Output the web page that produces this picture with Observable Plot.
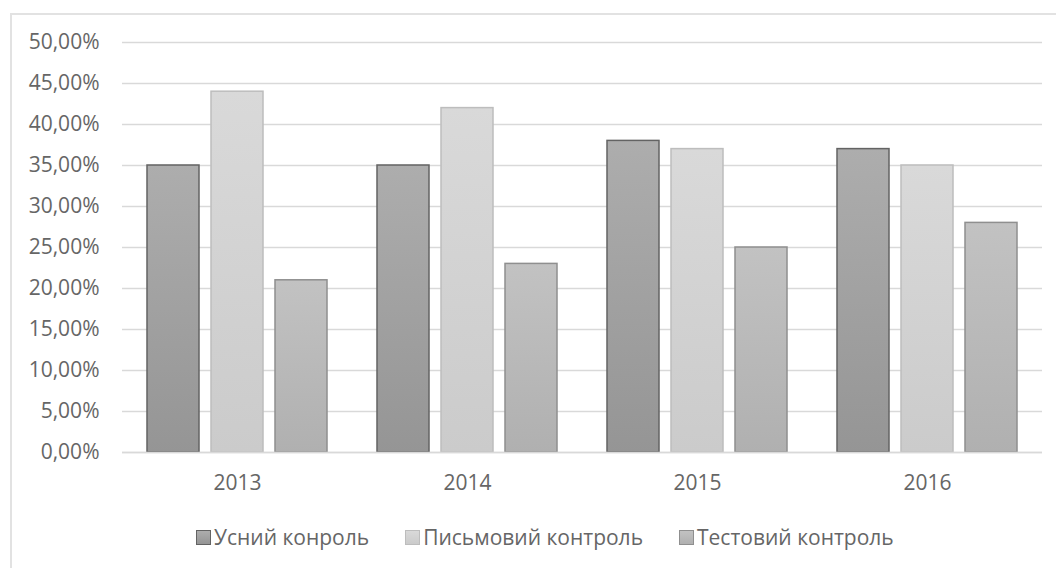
<!DOCTYPE html>
<html>
<head>
<meta charset="utf-8">
<script src="https://cdn.jsdelivr.net/npm/d3@7"></script>
<script src="https://cdn.jsdelivr.net/npm/@observablehq/plot@0.6"></script>
<style>
  html, body { margin: 0; padding: 0; background: #fff; overflow: hidden; }
  #frame { position: absolute; left: 10px; top: 13px; width: 1100px; height: 600px; border: 2px solid #e2e2e2; box-sizing: border-box; }
  #chart { position: absolute; left: 0; top: 0; }
  #legend { position: absolute; left: 196px; top: 523px; display: flex; align-items: center; font-family: "Open Sans", sans-serif; font-size: 21px; color: #666; white-space: nowrap; }
  .item { display: flex; align-items: center; margin-right: 36px; }
  .sw { width: 13px; height: 13px; margin-right: 3px; border: 1.5px solid; }
</style>
</head>
<body>
<div id="frame"></div>
<div id="chart"></div>
<div id="legend"></div>
<script>
const years = ["2013", "2014", "2015", "2016"];
const series = ["Усний конроль", "Письмовий контроль", "Тестовий контроль"];
const oral = [35, 35, 38, 37];
const written = [44, 42, 37, 35];
const test = [21, 23, 25, 28];
const yTicks = [0, 5, 10, 15, 20, 25, 30, 35, 40, 45, 50];

const values = [oral, written, test];
const data = [];
years.forEach((y, i) => series.forEach((s, j) => data.push({year: y, series: s, value: values[j][i]})));

const styles = [
  {id: "g0", top: "#adadad", bottom: "#959595", stroke: "#636363"},
  {id: "g1", top: "#d9d9d9", bottom: "#cbcbcb", stroke: "#bdbdbd"},
  {id: "g2", top: "#c2c2c2", bottom: "#b0b0b0", stroke: "#8f8f8f"}
];

const fmt = d => d3.format(".2f")(d).replace(".", ",") + "%";

const chart = Plot.plot({
  width: 1056,
  height: 512,
  marginLeft: 122,
  marginRight: 14,
  marginTop: 42,
  marginBottom: 60,
  style: {fontFamily: "Open Sans, sans-serif", fontSize: "21px", color: "#666", background: "transparent", overflow: "visible"},
  fx: {domain: years, padding: 0, label: null, axis: "bottom", tickSize: 0, tickPadding: 23},
  x: {domain: series, paddingInner: 0.1875, paddingOuter: 0.3906, axis: null},
  y: {domain: [0, 50], ticks: yTicks, tickFormat: fmt, tickSize: 0, tickPadding: 23, label: null},
  marks: [
    Plot.gridY(yTicks, {stroke: "#d9d9d9", strokeOpacity: 1, strokeWidth: 1.5}),
    ...series.map((s, j) => Plot.barY(data.filter(d => d.series === s), {
      fx: "year", x: "series", y: "value",
      fill: `url(#${styles[j].id})`,
      stroke: styles[j].stroke, strokeWidth: 1.5
    })),
    Plot.ruleY([0], {stroke: "#d9d9d9", strokeWidth: 1.5})
  ]
});

const svg = d3.select(chart);
const defs = svg.insert("defs", ":first-child");
styles.forEach(st => {
  const g = defs.append("linearGradient").attr("id", st.id).attr("x1", 0).attr("y1", 0).attr("x2", 0).attr("y2", 1);
  g.append("stop").attr("offset", "0%").attr("stop-color", st.top);
  g.append("stop").attr("offset", "100%").attr("stop-color", st.bottom);
});
document.getElementById("chart").appendChild(chart);

const legend = document.getElementById("legend");
series.forEach((s, j) => {
  const it = document.createElement("div");
  it.className = "item";
  const sw = document.createElement("span");
  sw.className = "sw";
  sw.style.background = `linear-gradient(${styles[j].top}, ${styles[j].bottom})`;
  sw.style.borderColor = styles[j].stroke;
  const t = document.createElement("span");
  t.textContent = s;
  it.appendChild(sw); it.appendChild(t);
  legend.appendChild(it);
});
</script>
</body>
</html>
